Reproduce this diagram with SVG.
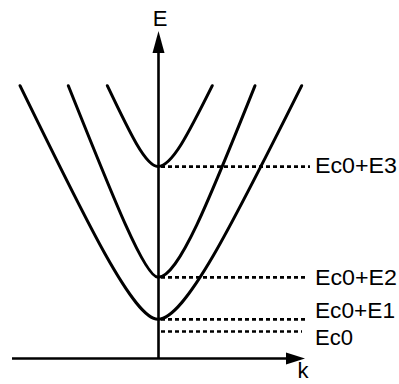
<svg xmlns="http://www.w3.org/2000/svg" width="399" height="384" viewBox="0 0 399 384">
<style>
.curve{fill:none;stroke:#000;stroke-width:3;stroke-linecap:round}
.axis{fill:none;stroke:#000;stroke-width:2.6}
.dash{fill:none;stroke:#000;stroke-width:2.7;stroke-dasharray:4 3}
.lbl{font-family:"Liberation Sans",Arial,sans-serif;font-size:22px;fill:#000}
</style>
<rect width="399" height="384" fill="#fff"/>
<g id="connectors">
<line class="dash" x1="161" y1="166.7" x2="310" y2="166.7"/>
<line class="dash" x1="161" y1="277.3" x2="306" y2="277.3"/>
<line class="dash" x1="161" y1="319.3" x2="305" y2="319.3"/>
<line class="dash" x1="161" y1="331.5" x2="302" y2="331.5"/>
</g>
<g id="axes">
<line class="axis" x1="158.5" y1="359" x2="158.5" y2="48"/>
<polygon points="158.5,31 152.5,53 164.5,53" fill="#000"/>
<line class="axis" x1="12" y1="358.5" x2="290" y2="358.5"/>
<polygon points="305,358.5 286,352.5 286,364.5" fill="#000"/>
</g>
<g id="band1"><path class="curve" d="M20,85.7 C88.4,225.9 134,319.3 158,319.3 C184.9,319.3 231.6,225.9 301.7,85.7"/></g>
<g id="band2"><path class="curve" d="M68.3,85.7 C114.3,200.7 144.9,277.3 158,277.3 C178.4,277.3 209,200.7 255,85.7"/></g>
<g id="band3"><path class="curve" d="M107.3,85.7 C130.4,134.2 145.8,166.5 158,166.5 C171.9,166.5 188.1,134.2 212.3,85.7"/></g>
<g id="labels">
<text class="lbl" x="160" y="25.5" text-anchor="middle">E</text>
<text class="lbl" x="297.5" y="377.5">k</text>
<text class="lbl" x="315" y="173" textLength="82" lengthAdjust="spacingAndGlyphs">Ec0+E3</text>
<text class="lbl" x="315" y="284.5" textLength="82" lengthAdjust="spacingAndGlyphs">Ec0+E2</text>
<text class="lbl" x="315" y="318" textLength="80" lengthAdjust="spacingAndGlyphs">Ec0+E1</text>
<text class="lbl" x="315" y="345" textLength="38" lengthAdjust="spacingAndGlyphs">Ec0</text>
</g>
</svg>
